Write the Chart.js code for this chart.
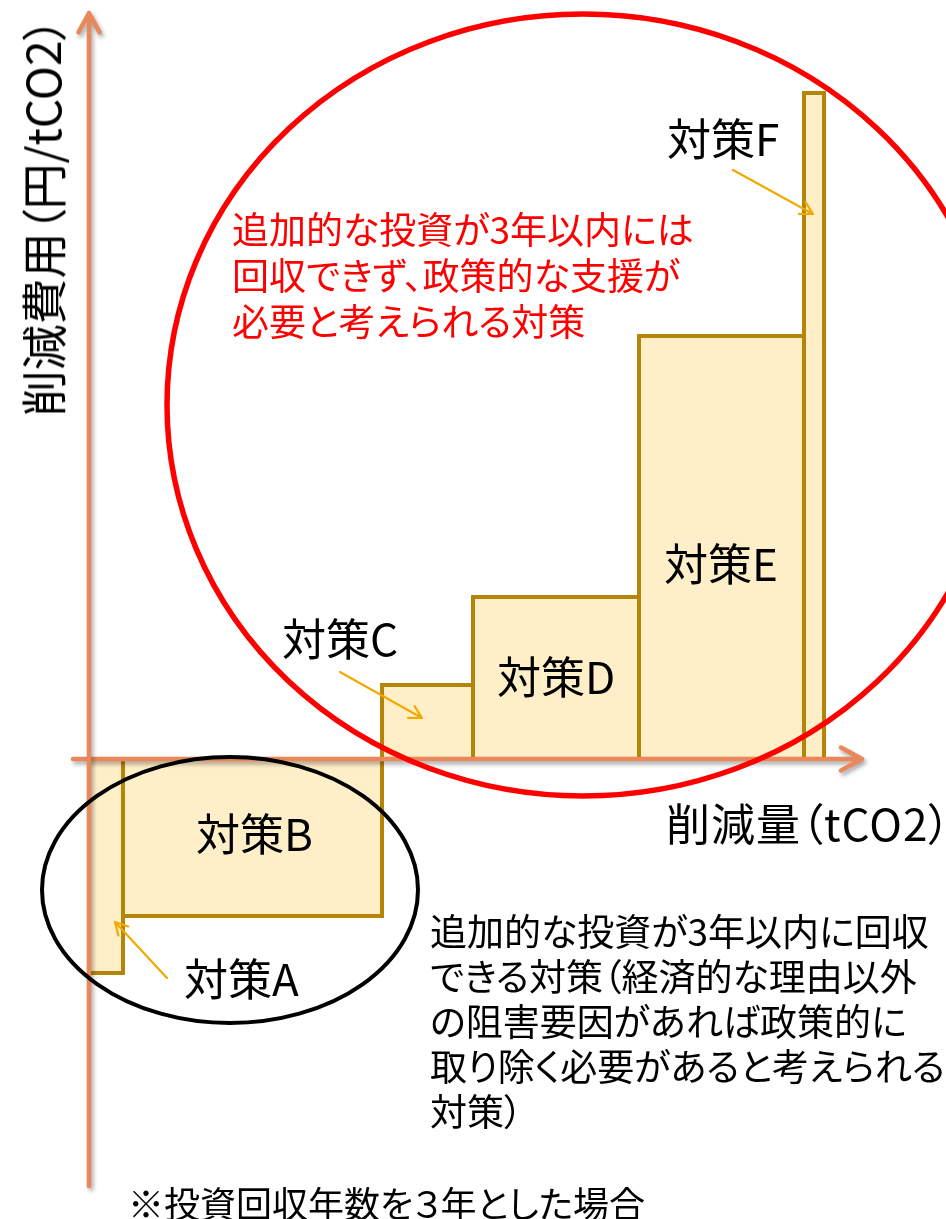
<!DOCTYPE html>
<html lang="ja">
<head>
<meta charset="utf-8">
<title>削減費用曲線</title>
<script src="https://cdn.jsdelivr.net/npm/chart.js@4.4.1/dist/chart.umd.min.js"></script>
<style>
    body { margin: 0; background: #fff; }
    #wrap { position: relative; width: 946px; height: 1219px; overflow: hidden; }
    #chart { position: absolute; left: 0; top: 0; }
    .lbl {
        position: absolute;
        white-space: nowrap;
        font-family: "Noto Sans CJK JP", "Noto Sans", sans-serif;
        color: #000;
        line-height: 1;
    }
    .bar-lbl { font-size: 44px; }
    .note { font-size: 37px; line-height: 46px; font-feature-settings: "palt"; }
    .palt { font-feature-settings: "palt"; }
</style>
</head>
<body>
<div id="wrap">
    <canvas id="chart" width="946" height="1219"></canvas>

    <div class="lbl bar-lbl" style="left:184px; top:955px;">対策A</div>
    <div class="lbl bar-lbl" style="left:196px; top:810px;">対策B</div>
    <div class="lbl bar-lbl" style="left:282px; top:615px;">対策C</div>
    <div class="lbl bar-lbl" style="left:497px; top:653px;">対策D</div>
    <div class="lbl bar-lbl" style="left:664px; top:540px;">対策E</div>
    <div class="lbl bar-lbl" style="left:667px; top:115px;">対策F</div>

    <div class="lbl note" style="left:232px; top:205px; color:#ff0000;">追加的な投資が3年以内には<br>回収できず、政策的な支援が<br>必要と考えられる対策</div>
    <div class="lbl note" style="left:430px; top:908px; line-height:45px;">追加的な投資が3年以内に回収<br>できる対策（経済的な理由以外<br>の阻害要因があれば政策的に<br>取り除く必要があると考えられる<br>対策）</div>
    <div class="lbl palt" style="left:128px; top:1184px; font-size:36px;">※投資回収年数を３年とした場合</div>

    <div class="lbl palt" style="left:666px; top:800px; font-size:44px; letter-spacing:1px;">削減量（tCO2）</div>
    <div class="lbl palt" style="left:41px; top:217px; font-size:46px; transform: translate(-50%, -50%) rotate(-90deg);">削減費用（円/tCO2）</div>
</div>

<script>
// measures, ordered by cost (marginal abatement cost curve)
const measures = ['対策A', '対策B', '対策C', '対策D', '対策E', '対策F'];
// reduction amount of each measure (bar width, tCO2)
const reductions = [3.4, 25.9, 9.1, 16.6, 16.5, 2.0];
// abatement cost of each measure (bar height, 円/tCO2)
const costs = [-21.4, -15.7, 7.4, 16.2, 42.3, 66.6];

const barFill = '#FFEFC9';
const barBorder = '#B5850A';
const axisColor = '#E9895B';
const pointerColor = '#F2A900';

// axis extents in data units
const xAxisRange = [-1.6, 77.3];
const yAxisRange = [-42.7, 74.6];

// group ellipses: [cx, cy, rx, ry]
const redGroup = [49.4, 35.4, 41.6, 39.1];
const blackGroup = [14.1, -13.1, 18.8, 13.3];

// small pointer arrows: [fromX, fromY, toX, toY]
const pointers = [
    [7.8, -21.9, 2.6, -16.3],
    [25.1, 8.7, 33.3, 4.1],
    [64.4, 58.9, 72.4, 54.5]
];

function buildDatasets() {
    let start = 0;
    return measures.map((name, i) => {
        const end = start + reductions[i];
        const ds = {
            label: name,
            data: [
                { x: start, y: 0 },
                { x: start, y: costs[i] },
                { x: end, y: costs[i] },
                { x: end, y: 0 }
            ],
            showLine: true,
            fill: 'origin',
            backgroundColor: barFill,
            borderColor: barBorder,
            borderWidth: 4,
            borderJoinStyle: 'miter',
            pointRadius: 0,
            tension: 0
        };
        start = end;
        return ds;
    });
}

function drawArrowLine(ctx, x0, y0, x1, y1, head, width, color, withShadow) {
    ctx.save();
    if (withShadow) {
        ctx.shadowColor = 'rgba(0,0,0,0.35)';
        ctx.shadowBlur = 4;
        ctx.shadowOffsetX = 2;
        ctx.shadowOffsetY = 3;
    }
    ctx.strokeStyle = color;
    ctx.lineWidth = width;
    ctx.lineCap = 'round';
    ctx.lineJoin = 'round';
    const ang = Math.atan2(y1 - y0, x1 - x0);
    ctx.beginPath();
    ctx.moveTo(x0, y0);
    ctx.lineTo(x1, y1);
    ctx.moveTo(x1 - head * Math.cos(ang - 0.5), y1 - head * Math.sin(ang - 0.5));
    ctx.lineTo(x1, y1);
    ctx.lineTo(x1 - head * Math.cos(ang + 0.5), y1 - head * Math.sin(ang + 0.5));
    ctx.stroke();
    ctx.restore();
}

function drawEllipse(ctx, xs, ys, e, color, width) {
    const cx = xs.getPixelForValue(e[0]);
    const cy = ys.getPixelForValue(e[1]);
    const rx = xs.getPixelForValue(e[0] + e[2]) - cx;
    const ry = cy - ys.getPixelForValue(e[1] + e[3]);
    ctx.save();
    ctx.strokeStyle = color;
    ctx.lineWidth = width;
    ctx.beginPath();
    ctx.ellipse(cx, cy, rx, ry, 0, 0, Math.PI * 2);
    ctx.stroke();
    ctx.restore();
}

const decorations = {
    id: 'decorations',
    afterDatasetsDraw(chart) {
        const ctx = chart.ctx;
        const xs = chart.scales.x;
        const ys = chart.scales.y;
        const x0 = xs.getPixelForValue(0);
        const y0 = ys.getPixelForValue(0);

        // axes with open arrow heads
        drawArrowLine(ctx, xs.getPixelForValue(xAxisRange[0]), y0,
            xs.getPixelForValue(xAxisRange[1]), y0, 24, 4.5, axisColor, true);
        drawArrowLine(ctx, x0, ys.getPixelForValue(yAxisRange[0]),
            x0, ys.getPixelForValue(yAxisRange[1]), 22, 4.5, axisColor, true);

        drawEllipse(ctx, xs, ys, redGroup, '#ff0000', 5.5);
        drawEllipse(ctx, xs, ys, blackGroup, '#000000', 4);

        pointers.forEach(p => {
            drawArrowLine(ctx, xs.getPixelForValue(p[0]), ys.getPixelForValue(p[1]),
                xs.getPixelForValue(p[2]), ys.getPixelForValue(p[3]), 14, 2.2, pointerColor, false);
        });
    }
};

new Chart(document.getElementById('chart'), {
    type: 'scatter',
    data: { datasets: buildDatasets() },
    options: {
        responsive: false,
        animation: false,
        layout: { padding: 0 },
        scales: {
            x: { type: 'linear', min: -8.9, max: 85.7, display: false },
            y: { type: 'linear', min: -46.0, max: 75.9, display: false }
        },
        plugins: {
            legend: { display: false },
            tooltip: { enabled: false }
        }
    },
    plugins: [decorations]
});
</script>
</body>
</html>
